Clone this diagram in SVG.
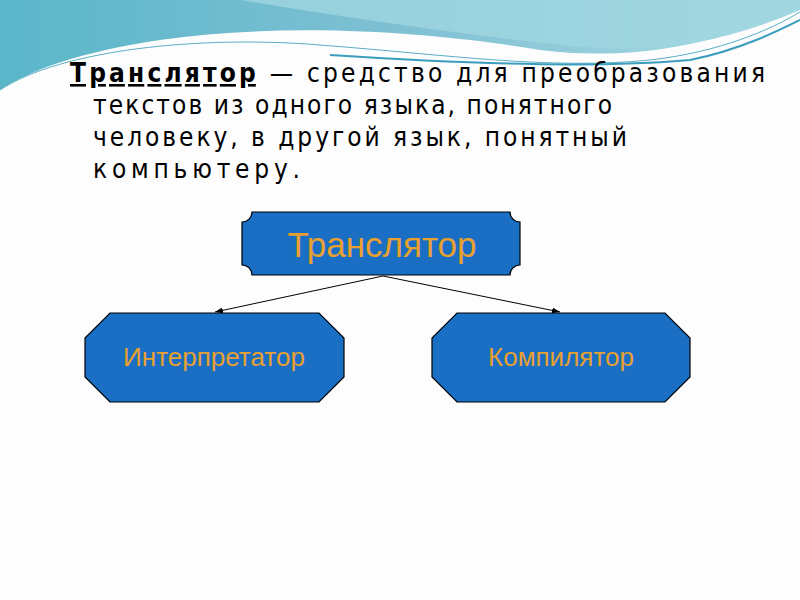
<svg xmlns="http://www.w3.org/2000/svg" width="800" height="600" viewBox="0 0 800 600">
<defs>
<linearGradient id="w1" x1="0" y1="0" x2="1" y2="0"><stop offset="0" stop-color="#5ab6c9"/><stop offset="0.5" stop-color="#7fc0d3"/><stop offset="1" stop-color="#a9dbe3"/></linearGradient>
<marker id="ar" markerWidth="8" markerHeight="6" refX="8" refY="3" orient="auto" markerUnits="userSpaceOnUse"><path d="M0,0 L8,3 L0,6 z" fill="#000"/></marker>
<style>
.t{font-family:"DejaVu Sans Condensed","DejaVu Sans",sans-serif;font-size:26px;fill:#000}
.n{fill:#1a6fc4;stroke:#000;stroke-width:1.2}
.lb{font-family:"Liberation Sans",Arial,sans-serif;fill:#e8a030;text-anchor:middle}
.c{stroke:#000;stroke-width:1;fill:none}
</style>
</defs>
<rect width="800" height="600" fill="#fdfdfd"/>
<path d="M0,0 H800 V10 C700,50 620,60 540,50 C450,35 300,20 160,40 C80,52 30,70 0,90 Z" fill="url(#w1)"/>
<path d="M240,0 H800 V10 C720,45 650,55 560,45 C450,33 330,15 240,0 Z" fill="#9fd6e0" opacity="0.8"/>
<path d="M0,90 C60,50 200,35 320,45 C450,55 550,70 650,60 C720,52 770,30 800,12" fill="none" stroke="#5aaec4" stroke-width="1"/>
<path d="M330,55 C480,65 600,68 690,60 C740,50 780,30 800,20" fill="none" stroke="#3b9dbd" stroke-width="2"/>
<g id="title">
<text class="t" x="70" y="82" textLength="695"><tspan font-weight="bold" text-decoration="underline">Транслятор</tspan> — средство для преобразования</text>
<text class="t" x="93" y="114" textLength="519">текстов из одного языка, понятного</text>
<text class="t" x="93" y="146" textLength="534">человеку, в другой язык, понятный</text>
<text class="t" x="93" y="178" textLength="207">компьютеру.</text>
</g>
<g id="connectors">
<line class="c" x1="383" y1="276" x2="215" y2="312" marker-end="url(#ar)"/>
<line class="c" x1="383" y1="276" x2="560" y2="312" marker-end="url(#ar)"/>
</g>
<g id="translator">
<path class="n" d="M252,212 H510 A10,10 0 0 0 520,222 V265 A10,10 0 0 0 510,275 H252 A10,10 0 0 0 242,265 V222 A10,10 0 0 0 252,212 Z"/>
<text class="lb" x="382" y="257" font-size="35">Транслятор</text>
</g>
<g id="interpreter">
<path class="n" d="M110,313 H319 L344,338 V377 L319,402 H110 L85,377 V338 Z"/>
<text class="lb" x="214" y="366" font-size="26">Интерпретатор</text>
</g>
<g id="compiler">
<path class="n" d="M457,313 H665 L690,338 V377 L665,402 H457 L432,377 V338 Z"/>
<text class="lb" x="561" y="366" font-size="26">Компилятор</text>
</g>
</svg>
